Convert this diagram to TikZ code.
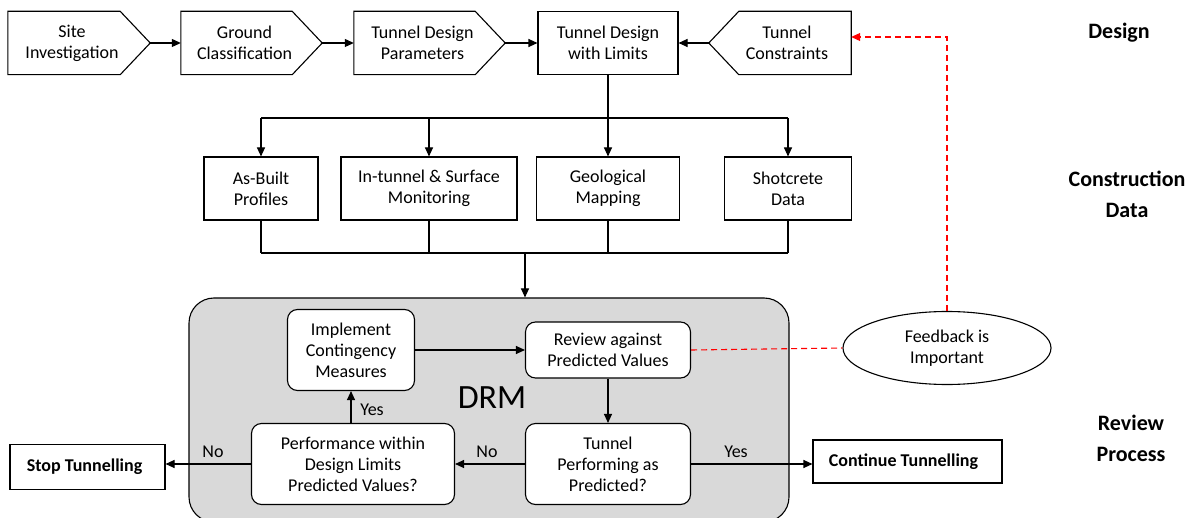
\documentclass[tikz,border=0pt]{standalone}
\usepackage{fontspec}
\setmainfont{Carlito}
\usetikzlibrary{shapes.geometric,arrows.meta}
\definecolor{drmgray}{RGB}{217,217,217}
\begin{document}
\begin{tikzpicture}[x=1pt,y=-1pt]
\tikzset{
 base/.style={draw, line width=1.1pt, inner sep=0pt, align=center, font=\fontsize{18}{21}\selectfont},
 ptxt/.style={inner sep=0pt, align=center, font=\fontsize{18}{21}\selectfont, minimum height=63pt},
 rbox/.style={base, minimum height=63pt},
 inbox/.style={base, fill=white, rounded corners=10pt},
 arr/.style={line width=1.1pt, -{Triangle[length=9pt,width=8pt]}},
 ln/.style={line width=1.1pt},
 fbline/.style={red, line width=1.1pt, dash pattern=on 6pt off 4pt},
 lab/.style={font=\fontsize{18}{21}\selectfont, inner sep=0pt},
 side/.style={font=\fontsize{22}{31}\selectfont\bfseries, align=center, inner sep=0pt},
}
\useasboundingbox (0,0) rectangle (1198,518);
% top row: pentagon outlines drawn from the anchors of their nodes
\node[ptxt, minimum width=142pt] (site) at (79,43) {Site\hspace*{14pt}\\Investigation\hspace*{14pt}};
\node[ptxt, minimum width=141pt] (ground) at (251.5,43) {Ground\hspace*{14pt}\\Classification\hspace*{14pt}};
\node[ptxt, minimum width=151pt] (params) at (429.5,43) {Tunnel Design\hspace*{14pt}\\Parameters\hspace*{14pt}};
\node[rbox, minimum width=140pt] (limits) at (608,43) {Tunnel Design\\with Limits};
\node[ptxt, minimum width=142pt] (cons) at (780,43) {\hspace*{14pt}Tunnel\\\hspace*{14pt}Constraints};
\foreach \n in {site,ground,params}
  \draw[ln, line join=miter] (\n.north west) -- ([xshift=-30pt]\n.north east) -- (\n.east) -- ([xshift=-30pt]\n.south east) -- (\n.south west) -- cycle;
\draw[ln, line join=miter] (cons.north east) -- ([xshift=30pt]cons.north west) -- (cons.west) -- ([xshift=30pt]cons.south west) -- (cons.south east) -- cycle;
\draw[arr] (site.east) -- (ground.west);
\draw[arr] (ground.east) -- (params.west);
\draw[arr] (params.east) -- (limits.west);
\draw[arr] (cons.west) -- (limits.east);
% construction data
\node[rbox, minimum width=114pt] (asb) at (261,188.5) {As-Built\\Profiles};
\node[rbox, minimum width=176pt] (mon) at (429,188.5) {In-tunnel \& Surface\\Monitoring};
\node[rbox, minimum width=143pt] (geo) at (608,188.5) {Geological\\Mapping};
\node[rbox, minimum width=127pt] (shot) at (788,188.5) {Shotcrete\\Data};
\coordinate (topbus) at (608,118);
\draw[ln] (limits.south) -- (limits.south |- topbus);
\draw[ln] (asb.north |- topbus) -- (shot.north |- topbus);
\foreach \n in {asb,mon,geo,shot} \draw[arr] (\n.north |- topbus) -- (\n.north);
\coordinate (botbus) at (525,253);
\foreach \n in {asb,mon,geo,shot} \draw[ln] (\n.south) -- (\n.south |- botbus);
\draw[ln] (asb.south |- botbus) -- (shot.south |- botbus);
% DRM
\node[draw, line width=1.1pt, fill=drmgray, rounded corners=25pt, minimum width=600pt, minimum height=224pt, inner sep=0pt] (drm) at (489,410) {};
\draw[arr] (botbus) -- (botbus |- drm.north);
\node[font=\fontsize{34}{34}\selectfont, inner sep=0pt] (drmlab) at (492,398) {DRM};
\node[inbox, minimum width=127pt, minimum height=81pt] (impl) at (351,350) {Implement\\Contingency\\Measures};
\node[inbox, minimum width=165pt, minimum height=56pt] (rev) at (608,350) {Review against\\Predicted Values};
\node[inbox, minimum width=203pt, minimum height=81pt] (perf) at (353,464) {Performance within\\Design Limits\\Predicted Values?};
\node[inbox, minimum width=165pt, minimum height=81pt] (tun) at (608,464) {Tunnel\\Performing as\\Predicted?};
\node[base, font=\fontsize{18}{21}\selectfont\bfseries, minimum width=155pt, minimum height=45pt] (stop) at (87.5,467) {Stop Tunnelling\hspace*{6pt}};
\node[base, font=\fontsize{18}{21}\selectfont\bfseries, minimum width=189pt, minimum height=43pt] (cont) at (907.5,461.5) {Continue Tunnelling\hspace*{8pt}};
\draw[arr] (impl.east) -- (impl.east -| rev.west);
\draw[arr] (rev.south) -- (tun.north);
\draw[arr] (tun.west) -- (tun.west -| perf.east);
\draw[arr] (perf.north -| impl.south) -- (impl.south);
\draw[arr] (perf.west) -- (perf.west -| stop.east);
\draw[arr] (tun.east) -- (tun.east -| cont.west);
\node[lab] (no1) at (213,452) {No};
\node[lab] (no2) at (487,452) {No};
\node[lab] (yes1) at (372,410) {Yes};
\node[lab] (yes2) at (736,452) {Yes};
% feedback
\node[base, ellipse, minimum width=208pt, minimum height=73pt] (fbk) at (947,348) {Feedback is\\Important};
\coordinate (fbc) at (947,37);
\draw[fbline] (rev.east) -- (fbk.west);
\draw[fbline, -{Triangle[length=9pt,width=8pt]}] (fbk.north) -- (fbk.north |- fbc) -- (cons.east |- fbc);
% side labels
\node[side] (lblD) at (1119,33) {Design};
\node[side] (lblC) at (1127,194) {Construction\\Data};
\node[side] (lblR) at (1131,438) {Review\\Process};
\end{tikzpicture}
\end{document}
